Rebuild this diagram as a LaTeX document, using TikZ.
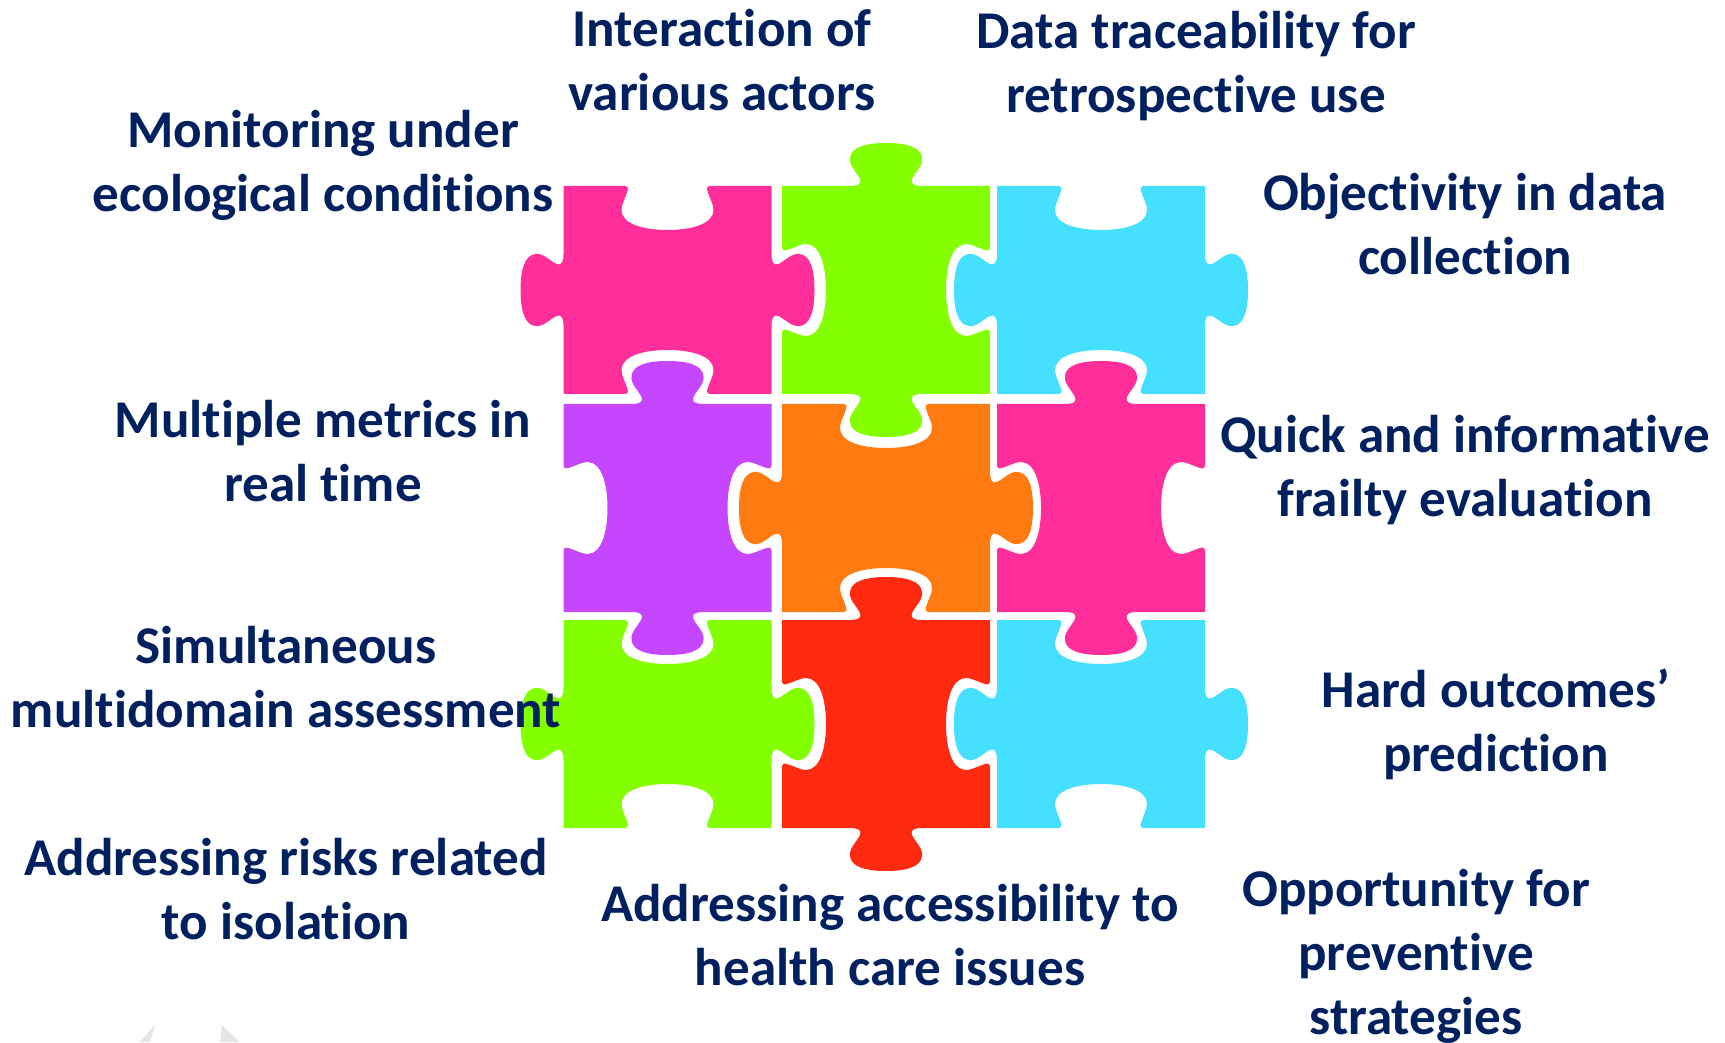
\documentclass[tikz,border=0pt]{standalone}
\usepackage{fontspec}
\setmainfont[Ligatures=NoCommon]{Carlito}
\definecolor{navytext}{HTML}{002060}
\definecolor{piecepink}{HTML}{FF2E9B}
\definecolor{piecegreen}{HTML}{84FF00}
\definecolor{piececyan}{HTML}{45DFFF}
\definecolor{piecepurple}{HTML}{C646FF}
\definecolor{pieceorange}{HTML}{FF7A10}
\definecolor{piecered}{HTML}{FF2A10}
% one side of a piece, seen as the top side and then turned
\newcommand{\tabside}[1]{{[rotate=#1] -- (-36,104)
	.. controls (-28,104) and (-24,106) .. (-26,111)
	.. controls (-30,119) and (-37,124) .. (-36,132)
	.. controls (-35,143) and (-20,147) .. (0,147)
	.. controls (20,147) and (35,143) .. (36,132)
	.. controls (37,124) and (30,119) .. (26,111)
	.. controls (24,106) and (28,104) .. (36,104) -- (104,104)}}
\newcommand{\slotside}[1]{{[rotate=#1] -- (-42,104)
	.. controls (-40,104) and (-39,102) .. (-40,99)
	.. controls (-42,92) and (-46,86) .. (-46,80)
	.. controls (-46,66) and (-24,60) .. (0,60)
	.. controls (24,60) and (46,66) .. (46,80)
	.. controls (46,86) and (42,92) .. (40,99)
	.. controls (39,102) and (40,104) .. (42,104) -- (104,104)}}
\tikzset{
	piecea/.pic={\fill[pic actions] (-104,104) \slotside{0} \tabside{-90} \slotside{180} \tabside{90} -- cycle;},
	pieceb/.pic={\fill[pic actions] (-104,104) \tabside{0} \slotside{-90} \tabside{180} \slotside{90} -- cycle;},
	lbl/.style={align=center,text=navytext,font=\fontsize{15.1}{18.2}\selectfont\bfseries,inner sep=0pt}
}
\begin{document}
\begin{tikzpicture}[x=0.01cm,y=0.01cm]
	\useasboundingbox (0,0) rectangle (1725,1042);
	
	\foreach \x/\y/\kind/\col in {667.5/752/piecea/piecepink,886/752/pieceb/piecegreen,1101/752/piecea/piececyan,
		667.5/534/pieceb/piecepurple,886/534/piecea/pieceorange,1101/534/pieceb/piecepink,
		667.5/318/piecea/piecegreen,886/318/pieceb/piecered,1101/318/piecea/piececyan}{
		\pic[fill=\col] at (\x,\y) {\kind};}
	
	\node[lbl] (interaction) at (722,982) {Interaction of\\various actors};
	\node[lbl] (traceability) at (1196,976) {Data traceability for\\retrospective use};
	\node[lbl] (monitoring) at (323,877) {Monitoring under\\ecological conditions};
	\node[lbl] (objectivity) at (1465,818) {Objectivity in data\\collection};
	\node[lbl] (metrics) at (323,591) {Multiple metrics in\\real time};
	\node[lbl] (frailty) at (1465,572) {Quick and informative\\frailty evaluation};
	\node[lbl] (multidomain) at (286,365) {Simultaneous\\multidomain assessment};
	\node[lbl] (outcomes) at (1496,318) {Hard outcomes’\\prediction};
	\node[lbl] (isolation) at (286,153) {Addressing risks related\\to isolation};
	\node[lbl] (accessibility) at (890,107) {Addressing accessibility to\\health care issues};
	\node[lbl] (preventive) at (1416,86) {Opportunity for\\preventive\\strategies};
	
	% faint remains at the lower edge
	\fill[black!10] (140,0) -- (155,17) -- (150,0) -- cycle;
	\fill[black!10] (220,0) -- (222,17) -- (240,0) -- cycle;
\end{tikzpicture}
\end{document}
